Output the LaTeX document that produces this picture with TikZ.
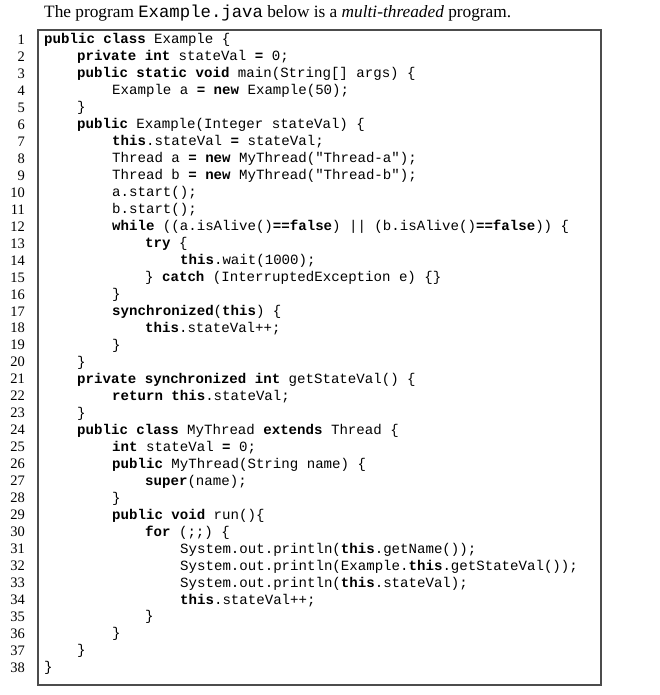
\documentclass[tikz,border=0pt]{standalone}
\usepackage{fontspec}
\setmainfont{Liberation Serif}
\setmonofont{Liberation Mono}
\newcommand{\kw}[1]{\textbf{#1}}
\begin{document}
\begin{tikzpicture}[x=1pt,y=-1pt,
  code/.style={anchor=base west,inner sep=0pt,font=\fontsize{14.1}{16}\ttfamily},
  num/.style={anchor=base east,inner sep=0pt,font=\fontsize{14.5}{16}\selectfont},
  hdr/.style={anchor=base west,inner sep=0pt,font=\fontsize{17.3}{19}\selectfont}]
\useasboundingbox (0,0) rectangle (660,695);
\node[hdr] (h) at (44,18) {The program {\ttfamily Example.java} below is a \textit{multi-threaded} program.};
\draw[line width=1.1pt,black!70] (38,30) rectangle (601,685);
\newcommand{\Ln}[3]{%
  \node[num] (n#1) at (25,{44.5+16.97*(#1-1)}) {#1};
  \node[code] (l#1) at ({#2},{44+16.97*(#1-1)}) {#3};}
\Ln{1}{44}{\kw{public class} Example \{}
\Ln{2}{77}{\kw{private int} stateVal \kw{=} 0;}
\Ln{3}{77}{\kw{public static void} main(String[] args) \{}
\Ln{4}{112}{Example a \kw{=} \kw{new} Example(50);}
\Ln{5}{77}{\}}
\Ln{6}{77}{\kw{public} Example(Integer stateVal) \{}
\Ln{7}{112}{\kw{this}.stateVal \kw{=} stateVal;}
\Ln{8}{112}{Thread a \kw{=} \kw{new} MyThread("Thread-a");}
\Ln{9}{112}{Thread b \kw{=} \kw{new} MyThread("Thread-b");}
\Ln{10}{112}{a.start();}
\Ln{11}{112}{b.start();}
\Ln{12}{112}{\kw{while} ((a.isAlive()\kw{==false}) || (b.isAlive()\kw{==false})) \{}
\Ln{13}{145}{\kw{try} \{}
\Ln{14}{180}{\kw{this}.wait(1000);}
\Ln{15}{145}{\} \kw{catch} (InterruptedException e) \{\}}
\Ln{16}{112}{\}}
\Ln{17}{112}{\kw{synchronized}(\kw{this}) \{}
\Ln{18}{145}{\kw{this}.stateVal++;}
\Ln{19}{112}{\}}
\Ln{20}{77}{\}}
\Ln{21}{77}{\kw{private synchronized int} getStateVal() \{}
\Ln{22}{112}{\kw{return this}.stateVal;}
\Ln{23}{77}{\}}
\Ln{24}{77}{\kw{public class} MyThread \kw{extends} Thread \{}
\Ln{25}{112}{\kw{int} stateVal \kw{=} 0;}
\Ln{26}{112}{\kw{public} MyThread(String name) \{}
\Ln{27}{145}{\kw{super}(name);}
\Ln{28}{112}{\}}
\Ln{29}{112}{\kw{public void} run()\{}
\Ln{30}{145}{\kw{for} (;;) \{}
\Ln{31}{180}{System.out.println(\kw{this}.getName());}
\Ln{32}{180}{System.out.println(Example.\kw{this}.getStateVal());}
\Ln{33}{180}{System.out.println(\kw{this}.stateVal);}
\Ln{34}{180}{\kw{this}.stateVal++;}
\Ln{35}{145}{\}}
\Ln{36}{112}{\}}
\Ln{37}{77}{\}}
\Ln{38}{44}{\}}
\end{tikzpicture}
\end{document}
